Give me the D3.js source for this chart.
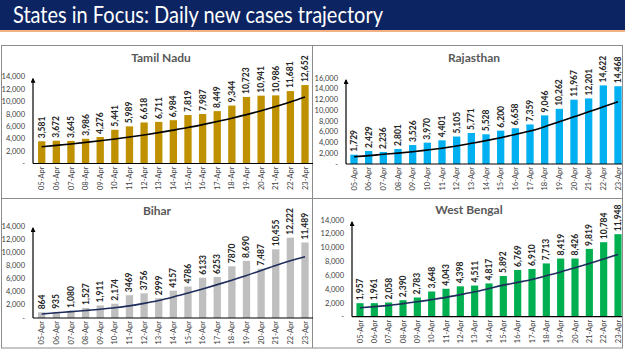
<!DOCTYPE html>
<html><head><meta charset="utf-8">
<script src="https://cdn.jsdelivr.net/npm/d3@7"></script>
<style>body{margin:0;background:#fff}svg{display:block}</style>
</head><body>
<script>
const chartTitle = "States in Focus: Daily new cases trajectory";
const dates = ["05-Apr","06-Apr","07-Apr","08-Apr","09-Apr","10-Apr","11-Apr","12-Apr","13-Apr","14-Apr","15-Apr","16-Apr","17-Apr","18-Apr","19-Apr","20-Apr","21-Apr","22-Apr","23-Apr"];

const tamilNaduValues = [3581,3672,3645,3986,4276,5441,5989,6618,6711,6984,7819,7987,8449,9344,10723,10941,10986,11681,12652];
const tamilNaduTrend  = [2700,2920,3150,3400,3670,3960,4270,4610,4980,5380,5800,6270,6770,7300,7880,8510,9190,9920,10710];

const rajasthanValues = [1729,2429,2236,2801,3526,3970,4401,5105,5771,5528,6200,6658,7359,9046,10262,11967,12201,14622,14468];
const rajasthanTrend  = [1360,1550,1800,2030,2290,2600,2920,3350,3850,4350,4900,5500,6130,6950,7870,8780,9700,10650,11580];

const biharValues = [864,935,1080,1527,1911,2174,3469,3756,2999,4157,4786,6133,6253,7870,8690,7487,10455,12222,11489];
const biharLabels = ["864","935","1,080","1,527","1,911","2,174","3469","3756","2999","4157","4786","6133","6253","7870","8,690","7,487","10,455","12,222","11,489"];
const biharTrend  = [620,790,970,1140,1330,1570,1850,2230,2670,3210,3800,4420,5080,5760,6460,7230,8000,8700,9330];

const westBengalValues = [1957,1961,2058,2390,2783,3648,4043,4398,4511,4817,5892,6769,6910,7713,8419,8426,9819,10784,11948];
const westBengalTrend  = [1300,1460,1640,1890,2160,2470,2800,3190,3600,4080,4570,4970,5390,5930,6480,7080,7690,8340,9030];

const yTicks14 = [0,2000,4000,6000,8000,10000,12000,14000];
const yTicks16 = [0,2000,4000,6000,8000,10000,12000,14000,16000];

const fmt = d3.format(",");
const W = 625, H = 351;
const svg = d3.select("body").append("svg").attr("width", W).attr("height", H);

const defs = svg.append("defs");
defs.append("marker").attr("id","arrow").attr("viewBox","0 0 10 10")
  .attr("refX",8).attr("refY",5).attr("markerWidth",5).attr("markerHeight",5)
  .attr("orient","auto").attr("markerUnits","userSpaceOnUse")
  .append("path").attr("d","M0,0 L10,5 L0,10 Z").attr("fill","#000");

// Banner
svg.append("rect").attr("x",0).attr("y",0).attr("width",W).attr("height",30).attr("fill","#0c2461");
svg.append("rect").attr("x",0).attr("y",30).attr("width",W).attr("height",2).attr("fill","#f4b183");
svg.append("text").attr("x",13).attr("y",23).attr("fill","#fff")
  .attr("font-family","Lato, 'Open Sans', sans-serif").attr("font-size",24)
  .attr("textLength",370).attr("lengthAdjust","spacingAndGlyphs").text(chartTitle);

// Panel borders
const borderG = svg.append("g").attr("stroke","#8c8c8c").attr("stroke-width",1).attr("fill","none");
borderG.append("rect").attr("x",1.5).attr("y",45.5).attr("width",621).attr("height",302.5);
borderG.append("line").attr("x1",312.5).attr("x2",312.5).attr("y1",45.5).attr("y2",348);
borderG.append("line").attr("x1",1.5).attr("x2",622.5).attr("y1",198.5).attr("y2",198.5);

const panels = [
  {name:"Tamil Nadu", values:tamilNaduValues, labels:tamilNaduValues.map(fmt), trend:tamilNaduTrend,
   color:"#bf9000", trendColor:"#000", axisX:33, y0:163.5, yTop:76.7, max:14000, ticks:yTicks14,
   first:41.7, last:305, xEnd:313, titleX:161, titleY:58},
  {name:"Rajasthan", values:rajasthanValues, labels:rajasthanValues.map(fmt), trend:rajasthanTrend,
   color:"#00b0f0", trendColor:"#000", axisX:346, y0:164, yTop:78, max:16000, ticks:yTicks16,
   first:354, last:618, xEnd:622, titleX:474, titleY:58},
  {name:"Bihar", values:biharValues, labels:biharLabels, trend:biharTrend,
   color:"#bfbfbf", trendColor:"#1f2d5c", axisX:33, y0:318, yTop:226, max:14000, ticks:yTicks14,
   first:41.7, last:305, xEnd:313, titleX:157, titleY:211},
  {name:"West Bengal", values:westBengalValues, labels:westBengalValues.map(fmt), trend:westBengalTrend,
   color:"#00b050", trendColor:"#1f2d5c", axisX:352, y0:316.7, yTop:220, max:14000, ticks:yTicks14,
   first:360, last:618, xEnd:622, titleX:469, titleY:210}
];

const FONT = "Lato, 'Open Sans', sans-serif";

panels.forEach(p => {
  const g = svg.append("g");
  const step = (p.last - p.first) / (dates.length - 1);
  const x = d3.scaleBand().domain(dates).range([p.first - step/2, p.last + step/2])
    .paddingInner(0.5).paddingOuter(0.25);
  const y = d3.scaleLinear().domain([0, p.max]).range([p.y0, p.yTop]);

  // title
  g.append("text").attr("x",p.titleX).attr("y",p.titleY).attr("dy","0.35em")
    .attr("text-anchor","middle").attr("font-family",FONT).attr("font-weight","bold")
    .attr("font-size",12).attr("fill","#595959").text(p.name);

  // y tick labels
  g.append("g").selectAll("text").data(p.ticks).join("text")
    .attr("x",p.axisX - 8).attr("y",d => y(d)).attr("dy","0.35em")
    .attr("text-anchor","end").attr("font-family",FONT).attr("font-size",7.5).attr("fill","#404040")
    .text(d => d === 0 ? "-" : fmt(d));

  // bars
  g.append("g").selectAll("rect").data(p.values).join("rect")
    .attr("x",(d,i) => x(dates[i])).attr("width",x.bandwidth())
    .attr("y",d => y(d)).attr("height",d => p.y0 - y(d)).attr("fill",p.color);

  // value labels
  g.append("g").selectAll("text").data(p.values).join("text")
    .attr("transform",(d,i) => `translate(${x(dates[i]) + x.bandwidth()/2},${y(d) - 3}) rotate(-90)`)
    .attr("dy","0.35em").attr("text-anchor","start")
    .attr("font-family",FONT).attr("font-weight","bold").attr("font-size",8.5).attr("fill","#262626")
    .text((d,i) => p.labels[i]);

  // x tick labels
  g.append("g").selectAll("text").data(dates).join("text")
    .attr("transform",d => `translate(${x(d) + x.bandwidth()/2},${p.y0 + 3}) rotate(-90)`)
    .attr("dy","0.35em").attr("text-anchor","end")
    .attr("font-family",FONT).attr("font-size",7.5).attr("fill","#404040")
    .text(d => d);

  // trend line
  const line = d3.line().x((d,i) => x(dates[i]) + x.bandwidth()/2).y(d => y(d)).curve(d3.curveMonotoneX);
  g.append("path").datum(p.trend).attr("d",line).attr("fill","none")
    .attr("stroke",p.trendColor).attr("stroke-width",1.6);

  // axes
  g.append("line").attr("x1",p.axisX).attr("x2",p.xEnd).attr("y1",p.y0).attr("y2",p.y0)
    .attr("stroke","#000").attr("stroke-width",1.2);
  g.append("line").attr("x1",p.axisX).attr("x2",p.axisX).attr("y1",p.y0).attr("y2",p.yTop + 2)
    .attr("stroke","#000").attr("stroke-width",1.2).attr("marker-end","url(#arrow)");
});
</script>
</body></html>
